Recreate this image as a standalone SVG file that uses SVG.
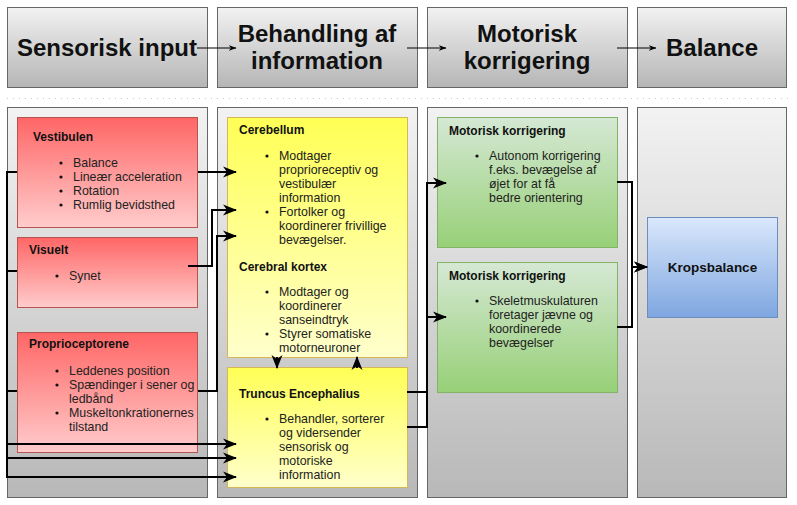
<svg xmlns="http://www.w3.org/2000/svg" width="797" height="505" viewBox="0 0 797 505">
<defs>
<linearGradient id="gGrey" x1="0" y1="0" x2="0" y2="1"><stop offset="0" stop-color="#f2f2f2"/><stop offset="1" stop-color="#b5b5b5"/></linearGradient>
<linearGradient id="gCol" x1="0" y1="0" x2="0" y2="1"><stop offset="0" stop-color="#f2f2f2"/><stop offset="1" stop-color="#b8b8b8"/></linearGradient>
<linearGradient id="gRed" x1="0" y1="0" x2="0" y2="1"><stop offset="0" stop-color="#ff6666"/><stop offset="1" stop-color="#ffcccc"/></linearGradient>
<linearGradient id="gYel" x1="0" y1="0" x2="0" y2="1"><stop offset="0" stop-color="#ffff55"/><stop offset="1" stop-color="#ffffcc"/></linearGradient>
<linearGradient id="gGrn" x1="0" y1="0" x2="0" y2="1"><stop offset="0" stop-color="#d5e8d4"/><stop offset="1" stop-color="#97d077"/></linearGradient>
<linearGradient id="gBlu" x1="0" y1="0" x2="0" y2="1"><stop offset="0" stop-color="#dae8fc"/><stop offset="1" stop-color="#7ea6e0"/></linearGradient>
<marker id="ah" viewBox="0 0 14 12" refX="13" refY="6" markerWidth="14" markerHeight="12" orient="auto" markerUnits="userSpaceOnUse"><path d="M0,0.5 L14,6 L0,11.5 L4,6 Z" fill="#000"/></marker>
<marker id="ahs" viewBox="0 0 8 8" refX="7.5" refY="4" markerWidth="8" markerHeight="8" orient="auto" markerUnits="userSpaceOnUse"><path d="M0,1 L8,4 L0,7 L2.5,4 Z" fill="#000"/></marker>
</defs>
<style>
.hdr{fill:url(#gGrey);stroke:#666;stroke-width:1}
.col{fill:url(#gCol);stroke:#666;stroke-width:1}
.red{fill:url(#gRed);stroke:#b85450;stroke-width:1}
.yel{fill:url(#gYel);stroke:#d6b656;stroke-width:1}
.grn{fill:url(#gGrn);stroke:#82b366;stroke-width:1}
.blu{fill:url(#gBlu);stroke:#6c8ebf;stroke-width:1}
.ht{font-family:"Liberation Sans",Arial,sans-serif;font-size:24px;font-weight:bold;fill:#111;text-anchor:middle}
.tt{font-family:"Liberation Sans",Arial,sans-serif;font-size:12px;font-weight:bold;fill:#111}
.bt{font-family:"Liberation Sans",Arial,sans-serif;font-size:12.4px;fill:#222}
.con{fill:none;stroke:#000;stroke-width:2}
.hcon{fill:none;stroke:#000;stroke-width:1}
</style>
<line x1="7" y1="98.5" x2="790" y2="98.5" stroke="#c8c8c8" stroke-width="1" stroke-dasharray="1,5"/>
<g id="header-sensorisk"><rect class="hdr" x="7.5" y="7.5" width="200" height="80"/><text class="ht" x="107" y="56">Sensorisk input</text></g>
<g id="header-behandling"><rect class="hdr" x="217.5" y="7.5" width="200" height="80"/><text class="ht" x="317" y="42">Behandling af</text><text class="ht" x="317" y="69">information</text></g>
<g id="header-motorisk"><rect class="hdr" x="427.5" y="7.5" width="200" height="80"/><text class="ht" x="527" y="42">Motorisk</text><text class="ht" x="527" y="69">korrigering</text></g>
<g id="header-balance"><rect class="hdr" x="637.5" y="7.5" width="149" height="80"/><text class="ht" x="712" y="56">Balance</text></g>
<g id="col1"><rect class="col" x="7.5" y="107.5" width="200" height="390"/></g>
<g id="col2"><rect class="col" x="217.5" y="107.5" width="200" height="390"/></g>
<g id="col3"><rect class="col" x="427.5" y="107.5" width="200" height="390"/></g>
<g id="col4"><rect class="col" x="637.5" y="107.5" width="149" height="390"/></g>
<g id="vestibulen"><rect class="red" x="17.5" y="117.5" width="180" height="110"/>
<text class="tt" x="33" y="141">Vestibulen</text>
<g class="bt"><circle cx="61" cy="163" r="1.6" fill="#111"/><text x="73" y="167">Balance</text>
<circle cx="61" cy="177" r="1.6" fill="#111"/><text x="73" y="181">Lineær acceleration</text>
<circle cx="61" cy="191" r="1.6" fill="#111"/><text x="73" y="195">Rotation</text>
<circle cx="61" cy="205" r="1.6" fill="#111"/><text x="73" y="209">Rumlig bevidsthed</text></g></g>
<g id="visuelt"><rect class="red" x="17.5" y="237.5" width="180" height="70"/>
<text class="tt" x="29" y="254">Visuelt</text>
<circle cx="57" cy="276" r="1.6" fill="#111"/><text class="bt" x="69" y="280">Synet</text></g>
<g id="proprioceptorene"><rect class="red" x="17.5" y="332.5" width="180" height="120"/>
<text class="tt" x="29" y="348">Proprioceptorene</text>
<circle cx="57" cy="371" r="1.6" fill="#111"/><text class="bt" x="69" y="375">Leddenes position</text>
<circle cx="57" cy="385" r="1.6" fill="#111"/><text class="bt" x="69" y="389">Spændinger i sener og</text>
<text class="bt" x="69" y="403">ledbånd</text>
<circle cx="57" cy="413" r="1.6" fill="#111"/><text class="bt" x="69" y="417">Muskeltonkrationernes</text>
<text class="bt" x="69" y="431">tilstand</text></g>
<g id="cerebellum"><rect class="yel" x="227.5" y="117.5" width="180" height="240"/>
<text class="tt" x="239" y="134">Cerebellum</text>
<circle cx="267" cy="156" r="1.6" fill="#111"/><text class="bt" x="279" y="160">Modtager</text>
<text class="bt" x="279" y="174">proprioreceptiv og</text>
<text class="bt" x="279" y="188">vestibulær</text>
<text class="bt" x="279" y="202">information</text>
<circle cx="267" cy="212" r="1.6" fill="#111"/><text class="bt" x="279" y="216">Fortolker og</text>
<text class="bt" x="279" y="230">koordinerer frivillige</text>
<text class="bt" x="279" y="244">bevægelser.</text>
<text class="tt" x="239" y="271">Cerebral kortex</text>
<circle cx="267" cy="292" r="1.6" fill="#111"/><text class="bt" x="279" y="296">Modtager og</text>
<text class="bt" x="279" y="310">koordinerer</text>
<text class="bt" x="279" y="324">sanseindtryk</text>
<circle cx="267" cy="334" r="1.6" fill="#111"/><text class="bt" x="279" y="338">Styrer somatiske</text>
<text class="bt" x="279" y="352">motorneuroner</text></g>
<g id="truncus"><rect class="yel" x="227.5" y="367.5" width="180" height="120"/>
<text class="tt" x="239" y="398">Truncus Encephalius</text>
<circle cx="267" cy="419" r="1.6" fill="#111"/><text class="bt" x="279" y="423">Behandler, sorterer</text>
<text class="bt" x="279" y="437">og vidersender</text>
<text class="bt" x="279" y="451">sensorisk og</text>
<text class="bt" x="279" y="465">motoriske</text>
<text class="bt" x="279" y="479">information</text></g>
<g id="motorisk1"><rect class="grn" x="437.5" y="117.5" width="180" height="130"/>
<text class="tt" x="449" y="135">Motorisk korrigering</text>
<circle cx="477" cy="156" r="1.6" fill="#111"/><text class="bt" x="489" y="160">Autonom korrigering</text>
<text class="bt" x="489" y="174">f.eks. bevægelse af</text>
<text class="bt" x="489" y="188">øjet for at få</text>
<text class="bt" x="489" y="202">bedre orientering</text></g>
<g id="motorisk2"><rect class="grn" x="437.5" y="262.5" width="180" height="130"/>
<text class="tt" x="449" y="280">Motorisk korrigering</text>
<circle cx="477" cy="301" r="1.6" fill="#111"/><text class="bt" x="489" y="305">Skeletmuskulaturen</text>
<text class="bt" x="489" y="319">foretager jævne og</text>
<text class="bt" x="489" y="333">koordinerede</text>
<text class="bt" x="489" y="347">bevægelser</text></g>
<g id="kropsbalance"><rect class="blu" x="647.5" y="217.5" width="130" height="100"/>
<text class="tt" x="712.5" y="272" text-anchor="middle" style="font-size:13.5px">Kropsbalance</text></g>
<g id="connectors">
<path class="hcon" d="M197,48 H236" marker-end="url(#ahs)"/>
<path class="hcon" d="M407,48 H446" marker-end="url(#ahs)"/>
<path class="hcon" d="M617,48 H656" marker-end="url(#ahs)"/>
<path class="con" d="M198,172 H236" marker-end="url(#ah)"/>
<path class="con" d="M188,266 H212 V210 H236" marker-end="url(#ah)"/>
<path class="con" d="M198,391 H217 V236 H236" marker-end="url(#ah)"/>
<path class="con" d="M17,172 H7 V444 H236" marker-end="url(#ah)"/>
<path class="con" d="M17,271 H7 V458 H236" marker-end="url(#ah)"/>
<path class="con" d="M17,391 H7 V477 H236" marker-end="url(#ah)"/>
<path class="con" d="M277,357 V368" marker-end="url(#ah)"/>
<path class="con" d="M357,368 V357" marker-end="url(#ah)"/>
<path class="con" d="M407,392 H427 V183 H446" marker-end="url(#ah)"/>
<path class="con" d="M407,427 H427 V317 H446" marker-end="url(#ah)"/>
<path class="con" d="M617,182 H632 V267 H647" marker-end="url(#ah)"/>
<path class="con" d="M617,327 H632 V267 H647" marker-end="url(#ah)"/>
</g>
</svg>
